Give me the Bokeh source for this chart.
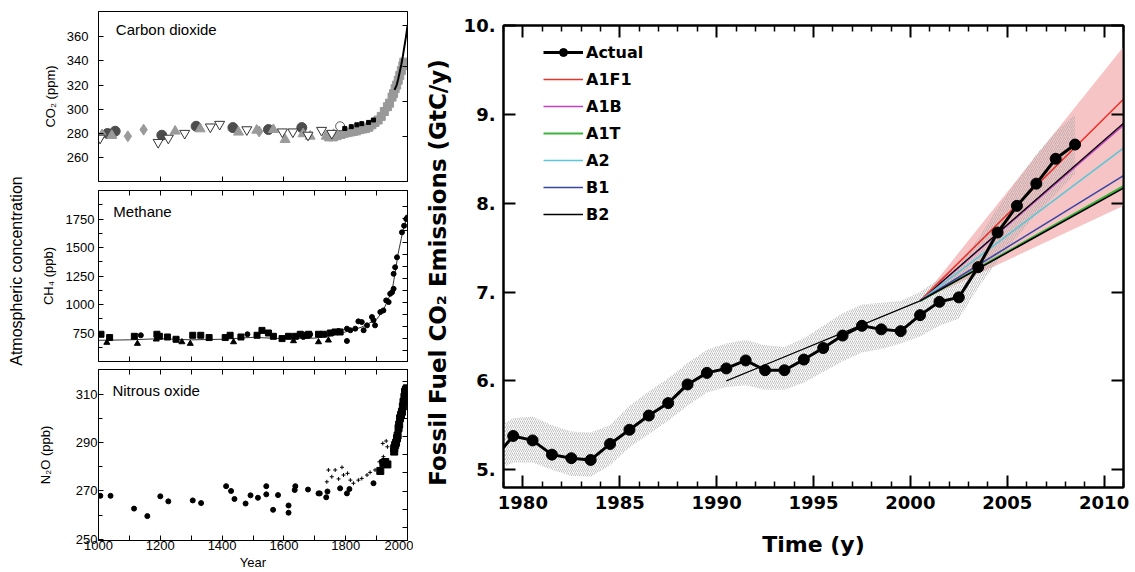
import numpy as np
from bokeh.plotting import figure
from bokeh.models import FixedTicker, LinearAxis, Legend, LegendItem, Label, CustomJSTickFormatter
from bokeh.layouts import row, column
from bokeh.embed import file_html
from bokeh.resources import INLINE
from bokeh.core.properties import value

LF = "Liberation Sans"
RF = "DejaVu Sans"

# ---------------- left panels: data ----------------
co2_circle_year = [1029, 1054, 1205, 1316, 1435, 1550, 1658]
co2_circle_ppm = [279.8, 281.7, 278.4, 285.8, 284.7, 283.1, 284.7]
co2_tri_year = [1043, 1248, 1329, 1453, 1512, 1566, 1604, 1662, 1685, 1737, 1761, 1793]
co2_tri_ppm = [278.1, 281.7, 283.6, 280.9, 282.5, 283.0, 274.8, 279.5, 277.5, 277.5, 278.9, 280.0]
co2_diam_year = [1012, 1095, 1146, 1520]
co2_diam_ppm = [279.0, 277.5, 283.0, 281.5]
co2_inv_year = [1005, 1193, 1226, 1279, 1362, 1392, 1480, 1595, 1629, 1678, 1722, 1755]
co2_inv_ppm = [276.0, 272.5, 276.0, 280.0, 285.3, 287.5, 283.0, 281.2, 281.2, 278.5, 282.5, 280.0]
co2_open_year = [1782]
co2_open_ppm = [285.8]
co2_dense_year = [1745, 1760, 1772, 1785, 1795, 1805, 1815, 1825, 1835, 1845, 1855, 1865,
                  1875, 1885, 1895, 1905, 1915, 1925, 1935, 1942, 1950, 1955, 1960, 1965,
                  1970, 1975, 1980, 1985, 1988]
co2_dense_ppm = [277, 277, 278, 279, 280, 280.5, 281, 281.5, 282, 283, 283.5, 284,
                 285, 287, 289, 291, 294, 298, 302, 305, 310, 313, 317, 320,
                 324, 328, 332, 336, 339]
co2_black_year = [1797, 1818, 1836, 1852, 1874, 1890]
co2_black_ppm = [284, 285.5, 287, 288, 289, 291]
co2_line_year = [1958, 1965, 1970, 1975, 1980, 1985, 1990, 1995, 2000]
co2_line_ppm = [316, 320, 325, 331, 337, 344, 352, 360, 369]

ch4_sq_year = [1008, 1036, 1116, 1189, 1197, 1223, 1251, 1305, 1331, 1358, 1410, 1426, 1461,
               1513, 1529, 1550, 1566, 1594, 1615, 1637, 1653, 1674, 1680, 1712, 1728, 1750,
               1766, 1782]
ch4_sq_ppb = [739, 710, 721, 739, 721, 715, 695, 730, 730, 710, 710, 730, 715,
              730, 773, 750, 721, 701, 721, 721, 739, 730, 739, 739, 739, 750,
              759, 759]
ch4_tri_year = [1027, 1126, 1187, 1270, 1297, 1437, 1631, 1712, 1744]
ch4_tri_ppb = [666, 657, 695, 671, 657, 671, 680, 671, 686]
ch4_dot_year = [1137, 1482, 1663, 1685, 1760, 1777, 1804, 1804, 1815, 1831, 1841, 1852, 1858,
                1869, 1885, 1890, 1895, 1912, 1922, 1931, 1939, 1944, 1950, 1955, 1955,
                1960, 1966, 1982, 1989, 1996, 2000]
ch4_dot_ppb = [730, 739, 715, 739, 759, 768, 788, 680, 774, 788, 852, 846, 774,
               817, 890, 861, 817, 934, 948, 1036, 1021, 1094, 1108, 1138, 1269,
               1327, 1414, 1633, 1691, 1750, 1764]
ch4_line_year = [1000, 1100, 1200, 1300, 1400, 1500, 1600, 1700, 1750, 1800, 1850, 1900,
                 1920, 1940, 1950, 1960, 1970, 1980, 1990, 2000]
ch4_line_ppb = [686, 690, 700, 690, 695, 712, 700, 705, 725, 760, 800, 870,
                940, 1060, 1120, 1280, 1450, 1580, 1700, 1765]

n2o_dot_year = [1006, 1039, 1115, 1158, 1200, 1226, 1305, 1332, 1413, 1429, 1440, 1476, 1492,
                1516, 1543, 1543, 1565, 1581, 1615, 1615, 1637, 1635, 1678, 1712, 1716, 1737,
                1741, 1782, 1804, 1812, 1890]
n2o_dot_ppb = [268, 268, 262.7, 259.6, 267.8, 265.7, 266.1, 265, 272, 270, 266.7, 264.8, 268.2,
               267.2, 272, 268.6, 262.2, 268.3, 264, 261, 272, 270.4, 270.6, 269, 269, 267.4,
               269.8, 271.1, 269, 270.8, 273.2]
n2o_cross_year = [1739, 1744, 1755, 1766, 1777, 1788, 1793, 1806, 1815, 1825, 1841, 1852,
                  1869, 1879, 1895, 1909, 1920, 1922, 1931, 1935]
n2o_cross_ppb = [273.8, 278.7, 275.9, 278.7, 275, 279.8, 276.6, 277.3, 274.5, 273.2, 274.5, 275.2,
                 276.6, 277.7, 278.7, 282.1, 289.7, 284.2, 290.7, 288.3]
n2o_sq_year = [1912, 1922, 1928, 1935, 1957, 1957, 1960, 1963, 1966, 1968, 1971, 1973, 1976,
               1979, 1982, 1985, 1987, 1990, 1992, 1995, 1998]
n2o_sq_ppb = [278.3, 281.5, 282, 281, 286.3, 287.7, 289, 290, 291.8, 293, 296, 297.5, 300.1,
              301.5, 302.8, 305, 306.9, 309, 311.1, 312, 312.5]

# ---------------- right panel: data ----------------
actual_year = [1978.5, 1979.5, 1980.5, 1981.5, 1982.5, 1983.5, 1984.5, 1985.5, 1986.5, 1987.5,
               1988.5, 1989.5, 1990.5, 1991.5, 1992.5, 1993.5, 1994.5, 1995.5, 1996.5, 1997.5,
               1998.5, 1999.5, 2000.5, 2001.5, 2002.5, 2003.5, 2004.5, 2005.5, 2006.5, 2007.5,
               2008.5]
actual_gtc = [5.12, 5.38, 5.33, 5.17, 5.13, 5.11, 5.29, 5.45, 5.61, 5.75,
              5.96, 6.09, 6.14, 6.23, 6.12, 6.12, 6.24, 6.37, 6.51, 6.62,
              6.58, 6.56, 6.74, 6.89, 6.94, 7.28, 7.67, 7.97, 8.22, 8.50,
              8.66]
band_low = [4.98, 5.08, 5.08, 5.00, 4.93, 4.92, 5.05, 5.25, 5.40, 5.55,
            5.72, 5.87, 5.93, 5.95, 5.90, 5.90, 5.98, 6.10, 6.22, 6.32,
            6.36, 6.42, 6.50, 6.62, 6.70, 7.05, 7.35, 7.62, 7.88, 8.10,
            8.33]
band_high = [5.45, 5.58, 5.60, 5.50, 5.43, 5.42, 5.50, 5.72, 5.88, 6.03,
             6.20, 6.35, 6.42, 6.46, 6.40, 6.38, 6.48, 6.62, 6.76, 6.86,
             6.88, 6.90, 7.00, 7.15, 7.30, 7.60, 7.95, 8.25, 8.55, 8.80,
             9.00]
scen_year = [2000.5, 2011.0]
sres_low = [6.90, 7.97]
sres_high = [6.90, 9.76]
a1f1 = [6.90, 9.17]
a1b = [6.90, 8.88]
a1t = [6.90, 8.19]
a2 = [6.90, 8.62]
b1 = [6.90, 8.31]
b2 = [6.90, 8.17]
trend_year = [1990.5, 2000.5, 2011.0]
trend_gtc = [6.00, 6.90, 8.90]

x_major = [1980, 1985, 1990, 1995, 2000, 2005, 2010]
x_minor = [y for y in range(1979, 2012) if y % 5 != 0]
y_major = [5, 6, 7, 8, 9, 10]


def blank_labels(ax):
    ax.formatter = CustomJSTickFormatter(code="return ''")
    ax.major_label_text_font_size = "0px"
    ax.major_label_standoff = 0


def left_panel(height, top, bottom, y_range, y_ticks, y_minor, y_label, lab_standoff,
               axl_standoff, right_ticks, x_ticks, x_minor, x_labels, top_ticks):
    p = figure(width=383, height=height, x_range=(1000, 2000), y_range=y_range,
               min_border_left=68, min_border_right=6, min_border_top=top,
               min_border_bottom=bottom, output_backend="svg", toolbar_location=None)
    p.grid.visible = False
    p.outline_line_color = "black"
    p.outline_line_width = 1
    ya = p.yaxis[0]
    ya.ticker = FixedTicker(ticks=y_ticks, minor_ticks=y_minor)
    ya.major_tick_in = 5
    ya.major_tick_out = 0
    ya.minor_tick_in = 4
    ya.minor_tick_out = 0
    ya.major_label_standoff = lab_standoff
    ya.major_label_text_font = LF
    ya.major_label_text_font_size = "13px"
    ya.major_label_text_color = "black"
    ya.axis_label = y_label
    ya.axis_label_text_font = LF
    ya.axis_label_text_font_size = "13px"
    ya.axis_label_text_font_style = "normal"
    ya.axis_label_text_color = "black"
    ya.axis_label_standoff = axl_standoff
    xa = p.xaxis[0]
    xa.ticker = FixedTicker(ticks=x_ticks, minor_ticks=x_minor)
    xa.major_tick_in = 5
    xa.major_tick_out = 0
    xa.minor_tick_in = 5
    xa.minor_tick_out = 0
    if x_labels:
        xa.major_label_text_font = LF
        xa.major_label_text_font_size = "13px"
        xa.major_label_text_color = "black"
        xa.major_label_standoff = 0
        xa.axis_label = "Year"
        xa.axis_label_text_font = LF
        xa.axis_label_text_font_size = "13px"
        xa.axis_label_text_font_style = "normal"
        xa.axis_label_text_color = "black"
        xa.axis_label_standoff = 2
    else:
        blank_labels(xa)
    ra = LinearAxis(ticker=FixedTicker(ticks=right_ticks))
    ra.major_tick_in = 5
    ra.major_tick_out = 0
    ra.minor_tick_out = 0
    blank_labels(ra)
    p.add_layout(ra, "right")
    if top_ticks:
        ta = LinearAxis(ticker=FixedTicker(ticks=top_ticks))
        ta.major_tick_in = 5
        ta.major_tick_out = 0
        ta.minor_tick_out = 0
        blank_labels(ta)
        p.add_layout(ta, "above")
    for ax in p.axis:
        ax.axis_line_color = "black"
        ax.major_tick_line_color = "black"
        ax.minor_tick_line_color = "black"
    return p


hundreds = list(range(1100, 2000, 100))

# CO2 panel
f1 = left_panel(186, 11, 5, (240, 381), [260, 280, 300, 320, 340, 360], [], "CO\u2082 (ppm)", 10, 6,
                [277.5, 306.7, 335.5, 369.3], [1200, 1400, 1600, 1800], [], False, None)
f1.scatter(co2_dense_year, co2_dense_ppm, marker="square", size=8, color="#999999")
f1.scatter(co2_circle_year, co2_circle_ppm, marker="circle", size=10, color="#4d4d4d")
f1.scatter(co2_tri_year, co2_tri_ppm, marker="triangle", size=10, color="#9a9a9a")
f1.scatter(co2_diam_year, co2_diam_ppm, marker="diamond", size=11, color="#9a9a9a")
f1.scatter(co2_inv_year, co2_inv_ppm, marker="inverted_triangle", size=10, fill_color="white",
           line_color="#333333", line_width=1)
f1.scatter(co2_open_year, co2_open_ppm, marker="circle", size=9, fill_color="white",
           line_color="#555555")
f1.scatter(co2_black_year, co2_black_ppm, marker="square", size=4, color="black")
f1.line(co2_line_year, co2_line_ppm, line_color="black", line_width=2)
f1.add_layout(Label(x=1056, y=366, text="Carbon dioxide", text_font=LF, text_font_size="15px",
                    text_baseline="middle", text_align="left", text_color="black"))

# CH4 panel
f2 = left_panel(179, 4, 4, (500, 2000), [750, 1000, 1250, 1500, 1750],
                [625, 875, 1125, 1375, 1625, 1875], "CH\u2084 (ppb)", 4, 7,
                [599, 704, 809, 914, 1019, 1124, 1229, 1334, 1439, 1544, 1649, 1754, 1859],
                hundreds, [], False, hundreds)
f2.line(ch4_line_year, ch4_line_ppb, line_color="#333333", line_width=1)
f2.scatter(ch4_sq_year, ch4_sq_ppb, marker="square", size=6, color="black")
f2.scatter(ch4_tri_year, ch4_tri_ppb, marker="triangle", size=6, color="black")
f2.scatter(ch4_dot_year, ch4_dot_ppb, marker="circle", size=5, color="black")
f2.add_layout(Label(x=1048, y=1814, text="Methane", text_font=LF, text_font_size="15px",
                    text_baseline="middle", text_align="left", text_color="black"))

# N2O panel
f3 = left_panel(207, 4, 31, (249.5, 320.3), [250, 270, 290, 310], [260, 280, 300],
                "N\u2082O (ppb)", 1, 20,
                [254.8, 262.5, 269.9, 277.5, 285.1, 292.6, 300.2, 307.7, 315.3],
                [1000, 1200, 1400, 1600, 1800, 2000], [1100, 1300, 1500, 1700, 1900], True,
                hundreds)
f3.scatter(n2o_dot_year, n2o_dot_ppb, marker="circle", size=5, color="black")
f3.scatter(n2o_cross_year, n2o_cross_ppb, marker="cross", size=4, color="black", line_width=1)
f3.scatter(n2o_sq_year, n2o_sq_ppb, marker="square", size=7, color="black")
f3.add_layout(Label(x=1045, y=311.8, text="Nitrous oxide", text_font=LF, text_font_size="15px",
                    text_baseline="middle", text_align="left", text_color="black"))

# side text
ft = figure(width=30, height=572, x_range=(0, 30), y_range=(0, 572), min_border=0,
            x_axis_type=None, y_axis_type=None, output_backend="svg", toolbar_location=None)
ft.grid.visible = False
ft.outline_line_color = None
ft.text(x=[16], y=[268], text=["Atmospheric concentration"], angle=np.pi / 2,
        text_align="center", text_baseline="middle", text_font=value(LF), text_font_size="16px",
        text_color="black")

# ---------------- right panel ----------------
p = figure(width=722, height=572, x_range=(1979, 2011), y_range=(4.8, 10.0),
           min_border_left=90, min_border_right=12, min_border_top=25, min_border_bottom=85,
           output_backend="svg", toolbar_location=None)
p.grid.visible = False
p.outline_line_color = "black"
p.outline_line_width = 2

p.varea(x=scen_year, y1=sres_low, y2=sres_high, fill_color="#f6c4c4", fill_alpha=1.0)
p.varea(x=actual_year, y1=band_low, y2=band_high, fill_alpha=0.0, hatch_pattern="/",
        hatch_color="#a8a8a8", hatch_scale=4, hatch_weight=0.8, hatch_alpha=0.9)

r_a1b = p.line(scen_year, a1b, line_color="#c040c0", line_width=1.6)
r_a1t = p.line(scen_year, a1t, line_color="#3cb43c", line_width=2.2)
r_trend = p.line(trend_year, trend_gtc, line_color="black", line_width=1.2)
r_a1f1 = p.line(scen_year, a1f1, line_color="#e8322a", line_width=1.6)
r_a2 = p.line(scen_year, a2, line_color="#5cc6d6", line_width=1.6)
r_b1 = p.line(scen_year, b1, line_color="#3a46a6", line_width=1.6)
r_b2 = p.line(scen_year, b2, line_color="black", line_width=1.6)
r_act = p.line(actual_year, actual_gtc, line_color="black", line_width=3)
r_dot = p.scatter(actual_year, actual_gtc, marker="circle", size=11, color="black")

legend = Legend(items=[
    LegendItem(label="Actual", renderers=[r_act, r_dot]),
    LegendItem(label="A1F1", renderers=[r_a1f1]),
    LegendItem(label="A1B", renderers=[r_a1b]),
    LegendItem(label="A1T", renderers=[r_a1t]),
    LegendItem(label="A2", renderers=[r_a2]),
    LegendItem(label="B1", renderers=[r_b1]),
    LegendItem(label="B2", renderers=[r_b2]),
], location=(40, 263))
legend.border_line_color = None
legend.background_fill_alpha = 0
legend.padding = 0
legend.margin = 0
legend.spacing = 7
legend.glyph_width = 40
legend.glyph_height = 20
legend.label_height = 20
legend.label_standoff = 3
legend.label_text_font = RF
legend.label_text_font_style = "bold"
legend.label_text_font_size = "16px"
legend.label_text_color = "black"
p.add_layout(legend)

xa = p.xaxis[0]
xa.ticker = FixedTicker(ticks=x_major, minor_ticks=x_minor)
xa.major_tick_in = 12
xa.major_tick_out = 0
xa.minor_tick_in = 6
xa.minor_tick_out = 0
xa.major_label_text_font = RF
xa.major_label_text_font_style = "bold"
xa.major_label_text_font_size = "18px"
xa.major_label_text_color = "black"
xa.major_label_standoff = 8
xa.axis_label = "Time (y)"
xa.axis_label_text_font = RF
xa.axis_label_text_font_style = "bold"
xa.axis_label_text_font_size = "22px"
xa.axis_label_text_color = "black"
xa.axis_label_standoff = 20

ya = p.yaxis[0]
ya.ticker = FixedTicker(ticks=y_major)
ya.major_tick_in = 12
ya.major_tick_out = 0
ya.minor_tick_out = 0
ya.major_label_overrides = {5: "5.", 6: "6.", 7: "7.", 8: "8.", 9: "9.", 10: "10."}
ya.major_label_text_font = RF
ya.major_label_text_font_style = "bold"
ya.major_label_text_font_size = "18px"
ya.major_label_text_color = "black"
ya.major_label_standoff = 8
ya.axis_label = "Fossil  Fuel  CO\u2082  Emissions  (GtC/y)"
ya.axis_label_text_font = RF
ya.axis_label_text_font_style = "bold"
ya.axis_label_text_font_size = "23px"
ya.axis_label_text_color = "black"
ya.axis_label_standoff = 10

ta = LinearAxis(ticker=FixedTicker(ticks=x_major, minor_ticks=x_minor))
ta.major_tick_in = 12
ta.major_tick_out = 0
ta.minor_tick_in = 6
ta.minor_tick_out = 0
blank_labels(ta)
p.add_layout(ta, "above")
rya = LinearAxis(ticker=FixedTicker(ticks=y_major))
rya.major_tick_in = 12
rya.major_tick_out = 0
rya.minor_tick_out = 0
blank_labels(rya)
p.add_layout(rya, "right")
for ax in p.axis:
    ax.axis_line_color = "black"
    ax.axis_line_width = 2
    ax.major_tick_line_width = 2
    ax.minor_tick_line_width = 1.5

layout = row(ft, column(f1, f2, f3), p)
open("out.html", "w").write(file_html(layout, INLINE))
